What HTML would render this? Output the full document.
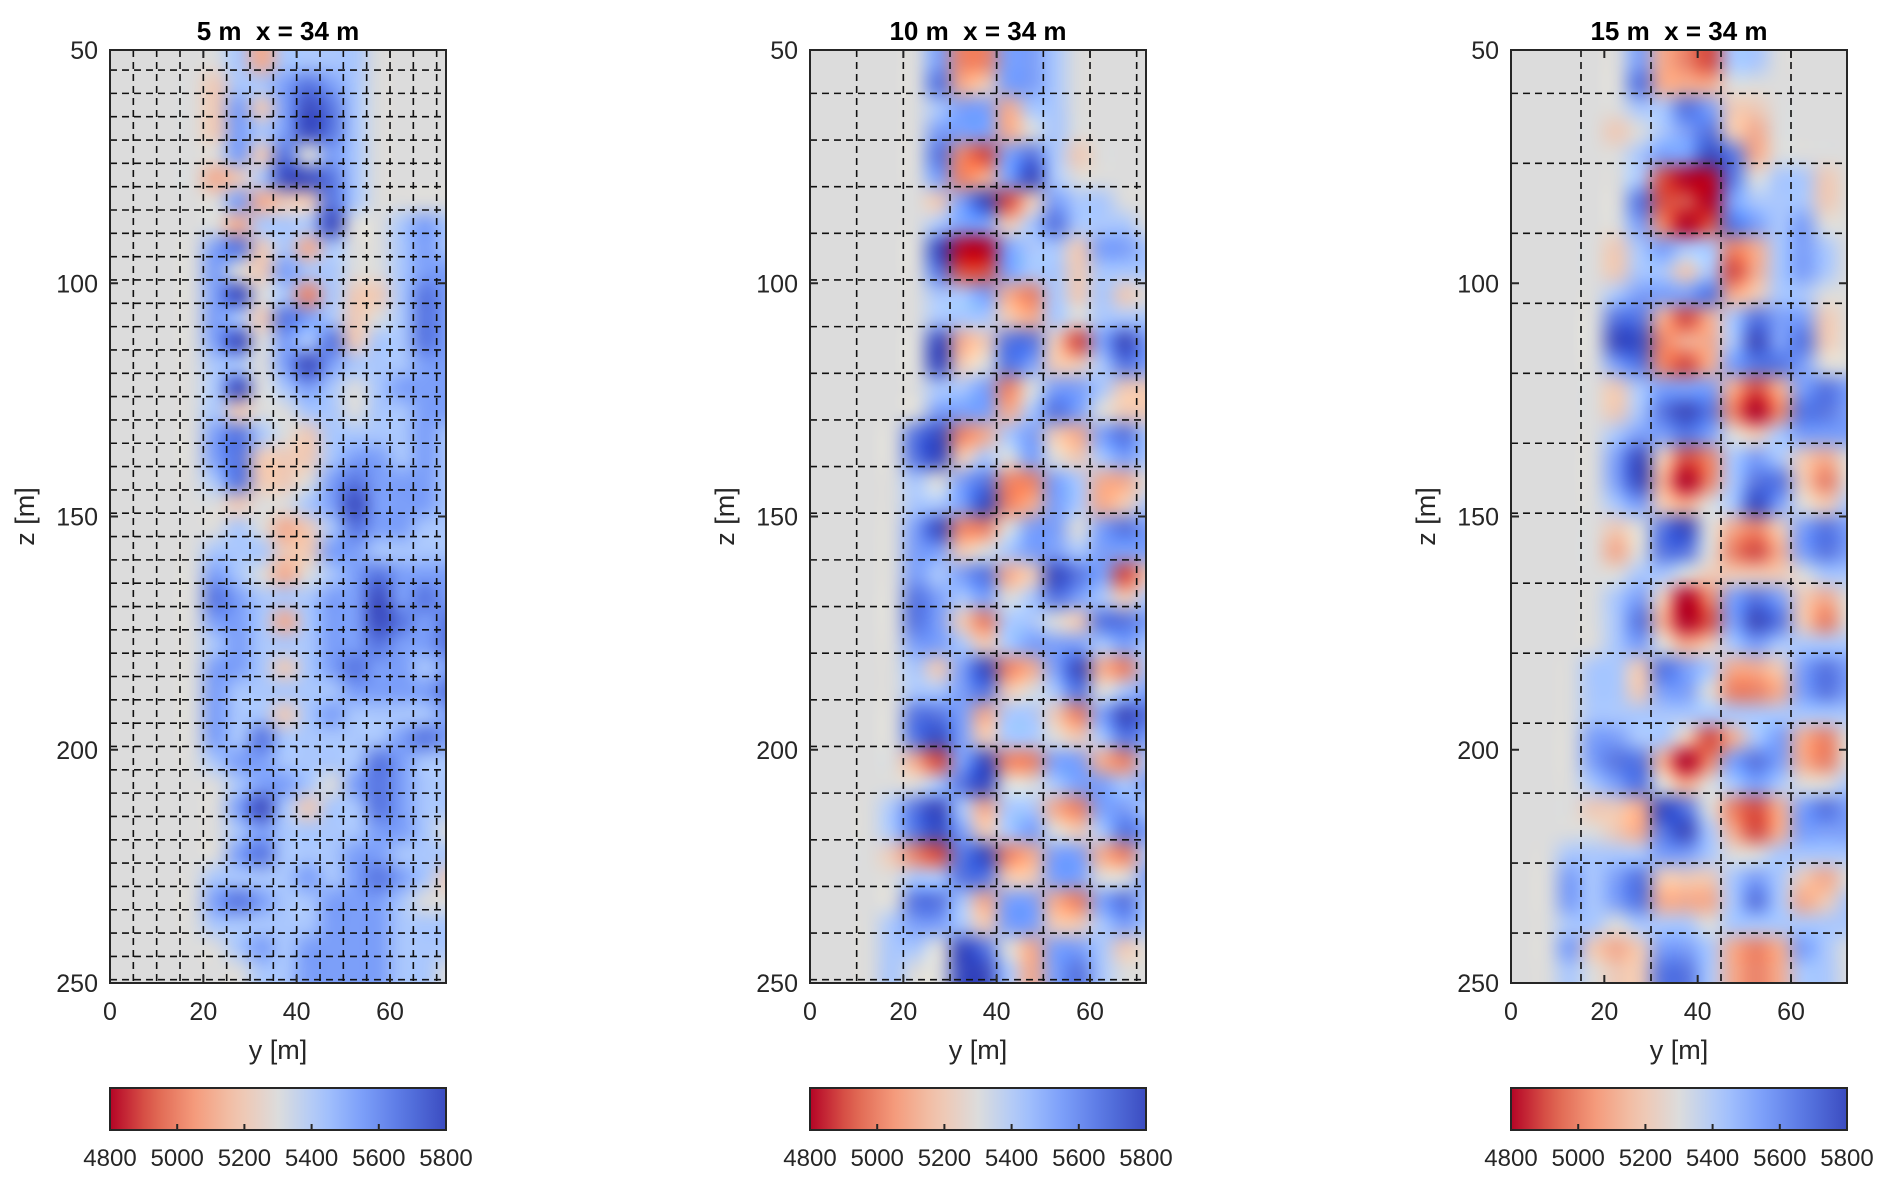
<!DOCTYPE html>
<html><head><meta charset="utf-8"><style>
html,body{margin:0;padding:0;background:#fff;}
#wrap{position:relative;width:1892px;height:1185px;overflow:hidden;font-family:"Liberation Sans",Arial,sans-serif;}
canvas{position:absolute;}
svg{position:absolute;left:0;top:0;}
</style></head><body>
<div id="wrap">
<svg id="ov" width="1892" height="1185"></svg>
</div>
<script>
// ---- data ----
const panelTitles = ["5 m\u00a0\u00a0x = 34 m", "10 m\u00a0\u00a0x = 34 m", "15 m\u00a0\u00a0x = 34 m"];
const yTicks = [0, 20, 40, 60];
const zTicks = [50, 100, 150, 200, 250];
const cbTicks = [4800, 5000, 5200, 5400, 5600, 5800];
const gridStepY = [5, 10, 15];
const gridStepZ = [5, 10, 15];
const gridStartZ = [54.3, 59.3, 59.3];
const cellSize = 5; // metres per data cell
// velocity levels: digit 0..9 -> 4800..5800 (5 = 5300 background)
const panel1Rows = [
"555556366665555","555546678765555","555547479865555","555547679865555","555557485765555",
"555534699865555","555557344865555","555553666955676","555578463655676","555575476655677",
"555579562644687","555576487645687","555579576846687","555566579766677","555569567656777",
"555564556656677","555578654666676","555578444677676","555568445787776","555554556797776",
"555556534687766","555566644776666","555576535678777","555587666779787","555577636779878",
"555567666778778","555577646787767","555576666677778","555576646766667","555576866666787",
"555567766668766","555556776578766","555557964668766","555556766667765","555557866677666",
"555566667678764","555578766777655","555566666777666","555556767777666","555555667777665"];
const panel2Rows = [
"555557227765555","555558347765555","555556773665555","555557773565555","555558217864555",
"555557237965555","555554791476655","555556774686665","555559007664776","555558117664666",
"555556673264645","555556664365666","555559348841797","555559458744687","555556672577644",
"555557773687544","555589236743786","555589465754676","555565782276335","555566792376346",
"555579225775787","555577456776777","555576783498714","555587675687646","555587426654887",
"555577646777676","555564792379326","555566784568567","555588736642798","555589746654687",
"555531792277326","555556895567767","555689636632776","555689746754687","555421892377326",
"555566884477557","555588637732786","555677647744676","555665985377645","555655996378655"];
const panel3Rows = [
"555557321665555","555558333555555","555556687445555","555545678435555","555556779835555",
"555556100856645","555558110766645","555557201876755","555546766236765","555546646136765",
"555567778346655","555588313687745","555599233697845","555578213788755","555546777313787",
"555546898202887","555567787546777","555579412676435","555579302688425","555567435697546",
"555545895324787","555535885213787","555556654444566","555567402787435","555568301798425",
"555567534676666","555664876334787","555664775223787","555666666666666","555776641367325",
"555788302787325","555678535676556","555443985213787","555543896313777","556666776556666",
"557678444676435","557678333686346","556656665666666","557434776323765","556544886323665"];
const panelData = [panel1Rows, panel2Rows, panel3Rows];

// ---- layout ----
const axLeft = [110, 810, 1511], axW = 336, axTop = 50, axBot = 983;
const yMin = 0, yMax = 72, zMin = 50, zMax = 250, vMin = 4800, vMax = 5800;
const cbTop = 1088, cbH = 42;
function xScale(p, y){ return axLeft[p] + (y - yMin) / (yMax - yMin) * axW; }
function zScale(z){ return axTop + (z - zMin) / (zMax - zMin) * (axBot - axTop); }
function cbScale(p, v){ return axLeft[p] + (v - vMin) / (vMax - vMin) * axW; }
function levelToV(d){ return d <= 5 ? 4800 + d * 100 : 5300 + (d - 5) * 125; }

// coolwarm (reversed: low = red)
const cw = [[0,[59,76,192]],[0.125,[88,118,226]],[0.25,[124,159,249]],[0.375,[170,199,253]],[0.5,[220,220,220]],[0.625,[242,196,173]],[0.75,[244,154,123]],[0.875,[222,96,77]],[1,[180,4,38]]];
function cmap(v){
  let t = 1 - (v - vMin) / (vMax - vMin); t = Math.max(0, Math.min(1, t));
  for (let i = 1; i < cw.length; i++){
    if (t <= cw[i][0]){
      const a = cw[i-1], b = cw[i], f = (t - a[0]) / (b[0] - a[0]);
      return [0,1,2].map(k => Math.round(a[1][k] + (b[1][k] - a[1][k]) * f));
    }
  }
  return cw[cw.length-1][1];
}

const wrap = document.getElementById('wrap');
const svg = document.getElementById('ov');
const NS = 'http://www.w3.org/2000/svg';
function mk(tag, attrs, parent){
  const e = document.createElementNS(NS, tag);
  for (const k in attrs) e.setAttribute(k, attrs[k]);
  (parent || svg).appendChild(e); return e;
}

for (let p = 0; p < 3; p++){
  const rows = panelData[p];
  const nr = rows.length, nc = rows[0].length;
  const src = document.createElement('canvas'); src.width = nc; src.height = nr;
  const sctx = src.getContext('2d'); const img = sctx.createImageData(nc, nr);
  for (let r = 0; r < nr; r++) for (let c = 0; c < nc; c++){
    const col = cmap(levelToV(+rows[r][c])); const i = (r * nc + c) * 4;
    img.data[i] = col[0]; img.data[i+1] = col[1]; img.data[i+2] = col[2]; img.data[i+3] = 255;
  }
  sctx.putImageData(img, 0, 0);
  const cv = document.createElement('canvas');
  
  
  cv.width = axW; cv.height = axBot - axTop;
  cv.style.left = axLeft[p] + 'px'; cv.style.top = axTop + 'px';
  wrap.insertBefore(cv, svg);
  const ctx = cv.getContext('2d'); ctx.imageSmoothingEnabled = true; ctx.imageSmoothingQuality = 'high';
  ctx.fillStyle = '#dcdcdc'; ctx.fillRect(0, 0, cv.width, cv.height);
  const dx0 = xScale(p, 0) - axLeft[p], dx1 = xScale(p, nc * cellSize) - axLeft[p];
  const dy0 = zScale(zMin) - axTop, dy1 = zScale(zMin + nr * cellSize) - axTop;
  ctx.drawImage(src, 0, 0, nc, nr, dx0, dy0, dx1 - dx0, dy1 - dy0);

  const g = mk('g', {});
  
  
  for (let y = gridStepY[p]; y < yMax; y += gridStepY[p]){
    const l = mk('line', {x1: xScale(p,y), x2: xScale(p,y), y1: axTop, y2: axBot, stroke:'#111', 'stroke-width':1.6, 'stroke-dasharray':'7 5'}, g);
    
    
  }
  for (let z = gridStartZ[p]; z < zMax; z += gridStepZ[p]){
    const l = mk('line', {x1: axLeft[p], x2: axLeft[p]+axW, y1: zScale(z), y2: zScale(z), stroke:'#111', 'stroke-width':1.6, 'stroke-dasharray':'7 5'}, g);
    
    
  }
  const box = mk('rect', {x: axLeft[p], y: axTop, width: axW, height: axBot-axTop, fill:'none', stroke:'#262626', 'stroke-width':2}, g);
  
  
  zTicks.forEach(z => {
    const y = zScale(z);
    mk('line', {x1: axLeft[p], x2: axLeft[p]+8, y1: y, y2: y, stroke:'#262626','stroke-width':2}, g);
    mk('line', {x1: axLeft[p]+axW-8, x2: axLeft[p]+axW, y1: y, y2: y, stroke:'#262626','stroke-width':2}, g);
    const t = mk('text', {x: axLeft[p]-12, y: y+9, 'text-anchor':'end', 'font-size':25, fill:'#262626'}, g);
    
    
    t.textContent = z;
  });
  yTicks.forEach(v => {
    const x = xScale(p, v);
    mk('line', {x1: x, x2: x, y1: axTop, y2: axTop+8, stroke:'#262626','stroke-width':2}, g);
    mk('line', {x1: x, x2: x, y1: axBot-8, y2: axBot, stroke:'#262626','stroke-width':2}, g);
    const t = mk('text', {x: x, y: 1020, 'text-anchor':'middle', 'font-size':25, fill:'#262626'}, g);
    
    
    t.textContent = v;
  });
  const tt = mk('text', {x: axLeft[p]+axW/2, y: 40, 'text-anchor':'middle', 'font-size':26, 'font-weight':'bold', fill:'#000'}, g);
  
  
  tt.textContent = panelTitles[p];
  const xl = mk('text', {x: axLeft[p]+axW/2, y: 1059, 'text-anchor':'middle', 'font-size':27, fill:'#262626'}, g);
  
  
  xl.textContent = 'y [m]';
  const zx = axLeft[p] - 76, zy = (axTop+axBot)/2;
  const zl = mk('text', {x: zx, y: zy, 'text-anchor':'middle', 'font-size':27, fill:'#262626', transform:'rotate(-90 '+zx+' '+zy+')'}, g);
  
  
  zl.textContent = 'z [m]';
  const gid = 'cbgrad' + p;
  const defs = mk('defs', {}, g);
  const lg = mk('linearGradient', {id: gid, x1:'0', x2:'1', y1:'0', y2:'0'}, defs);
  for (let i = 0; i <= 20; i++){
    const c = cmap(vMin + (vMax - vMin) * i / 20);
    mk('stop', {offset: (i/20), 'stop-color': 'rgb('+c.join(',')+')'}, lg);
  }
  const cb = mk('rect', {x: axLeft[p], y: cbTop, width: axW, height: cbH, fill: 'url(#'+gid+')', stroke:'#262626', 'stroke-width':2}, g);
  
  
  cbTicks.forEach(v => {
    const x = cbScale(p, v);
    mk('line', {x1: x, x2: x, y1: cbTop+cbH-6, y2: cbTop+cbH, stroke:'#262626','stroke-width':2}, g);
    const t = mk('text', {x: x, y: 1166, 'text-anchor':'middle', 'font-size':24, fill:'#262626'}, g);
    
    
    t.textContent = v;
  });
}
</script>
</body></html>
